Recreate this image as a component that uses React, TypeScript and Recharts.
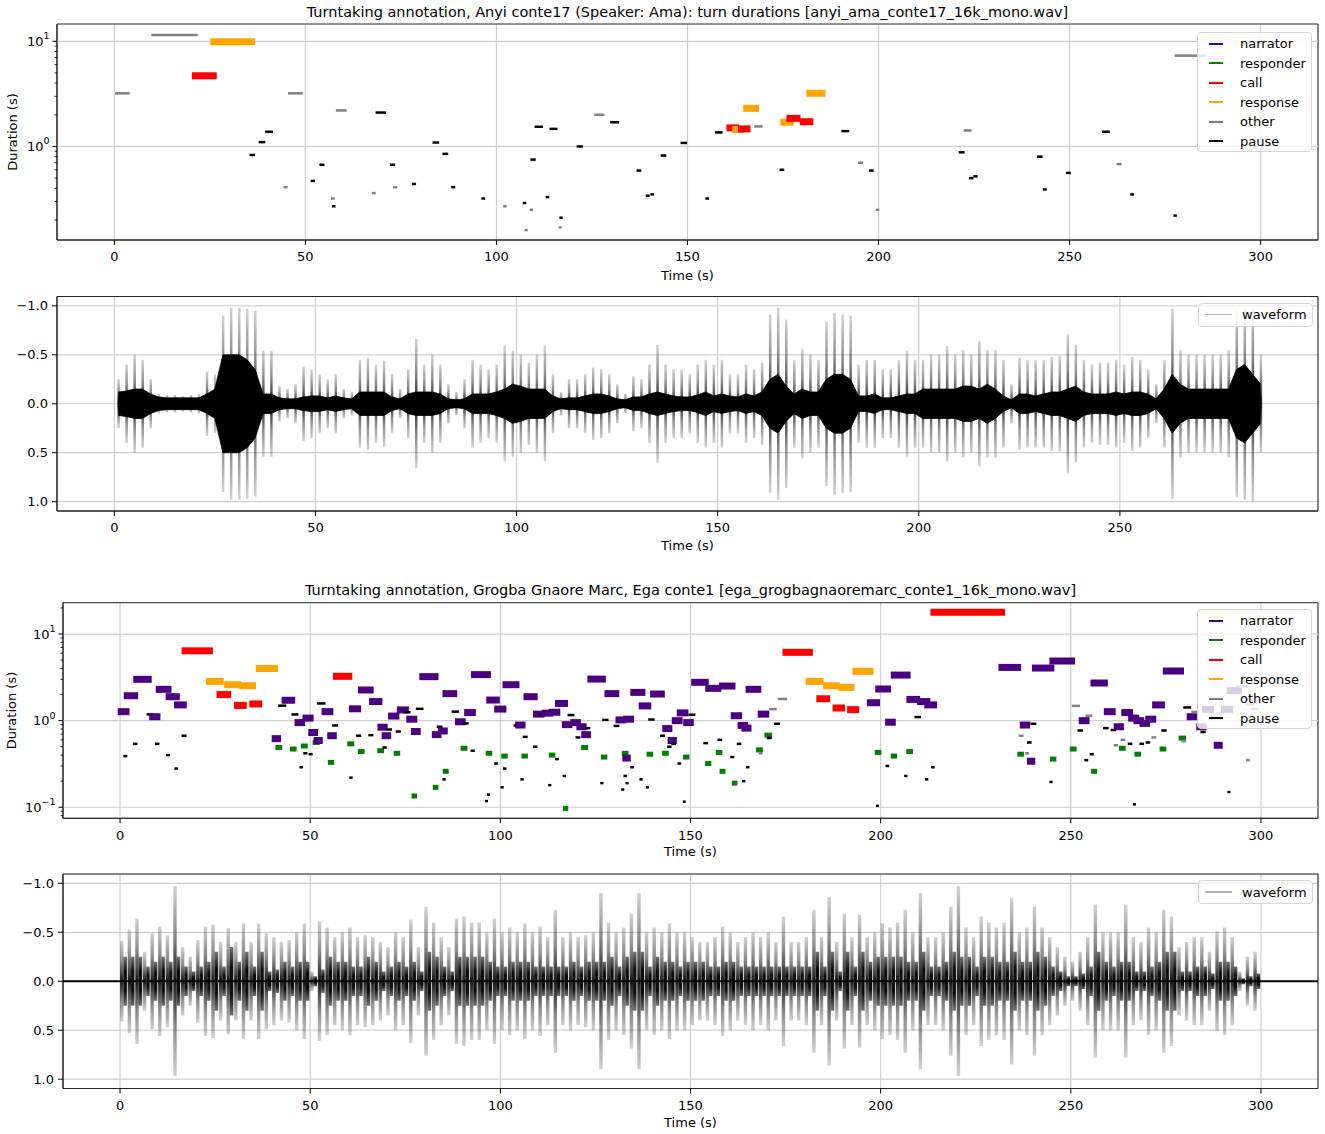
import React from 'react';
import { ComposedChart, XAxis, YAxis, CartesianGrid, ReferenceLine, ReferenceArea, Area, Bar, Legend, Label } from 'recharts';

const FONT = '"DejaVu Sans", "Liberation Sans", sans-serif';
const GRID = '#cfcfcf';
const SPINE = '#262626';

type Cat = 'narrator' | 'responder' | 'call' | 'response' | 'other' | 'pause';
const CATS: Cat[] = ['narrator', 'responder', 'call', 'response', 'other', 'pause'];
const COLORS: Record<Cat, string> = {
  narrator: '#4b0082', responder: '#008000', call: '#ff0000',
  response: '#ffa500', other: '#808080', pause: '#000000',
};
const WIDTHS: Record<Cat, number> = { narrator: 7, responder: 5, call: 7, response: 7, other: 2.5, pause: 2.5 };

const TIME_TICKS = [0, 50, 100, 150, 200, 250, 300];
const ANYI_WAVE_TICKS = [0, 50, 100, 150, 200, 250];
const AMP_TICKS = [-1, -0.5, 0, 0.5, 1];
const ANYI_LOG_TICKS = [0.2, 0.3, 0.4, 0.5, 0.6, 0.7, 0.8, 0.9, 1, 2, 3, 4, 5, 6, 7, 8, 9, 10];
const EGA_LOG_TICKS = [0.08, 0.09, 0.1, 0.2, 0.3, 0.4, 0.5, 0.6, 0.7, 0.8, 0.9, 1, 2, 3, 4, 5, 6, 7, 8, 9, 10, 20];

// turns: [start (s), duration (s)]
const ANYI_CALL = [[21.2, 4.7], [161.1, 1.5], [164.1, 1.47], [176.8, 1.85], [180.3, 1.72]];
const ANYI_RESPONSE = [[26.0, 9.9], [162.6, 1.45], [165.5, 2.3], [175.2, 1.7], [182.0, 3.2]];
const ANYI_OTHER = [
  [0.5, 3.2], [10.0, 11.5], [45.8, 3.2], [58.3, 2.2], [44.6, 0.41], [57.0, 0.32], [67.7, 0.36], [73.3, 0.41],
  [102.1, 0.27], [109.0, 0.25], [107.7, 0.16], [116.6, 0.17], [125.9, 2.0], [167.8, 1.55], [194.9, 0.7],
  [199.6, 0.25], [222.6, 1.42], [262.6, 0.68], [277.8, 7.3],
];
const ANYI_PAUSE = [
  [39.8, 1.38], [38.1, 1.1], [35.7, 0.83], [54.0, 0.67], [51.7, 0.47], [57.3, 0.27], [68.7, 2.1], [72.5, 0.67],
  [78.2, 0.44], [83.6, 1.09], [86.2, 0.85], [88.5, 0.41], [96.4, 0.32], [107.2, 0.29], [113.2, 0.33], [109.2, 0.75],
  [110.3, 1.54], [114.2, 1.47], [116.8, 0.21], [121.3, 1.0], [130.1, 1.7], [137.0, 0.59], [139.4, 0.34], [140.6, 0.35],
  [143.3, 0.82], [148.5, 1.08], [155.0, 0.32], [157.5, 1.36], [174.4, 0.6], [190.6, 1.4], [197.8, 0.59], [221.3, 0.88],
  [224.0, 0.5], [225.1, 0.52], [241.8, 0.8], [243.3, 0.39], [249.4, 0.56], [258.8, 1.38], [266.2, 0.35], [277.5, 0.22],
];

const EGA_NARRATOR = [
  [0.3, 1.27], [1.9, 1.94], [4.4, 3.0], [8.6, 1.11], [10.3, 2.3], [12.9, 1.89], [15.1, 1.52],
  [40.8, 0.62], [43.4, 1.72], [46.8, 0.95], [48.9, 1.07], [50.4, 0.73], [51.8, 0.59], [53.9, 1.27], [55.4, 0.67],
  [61.1, 1.37], [63.5, 2.26], [66.4, 1.66], [68.6, 0.84], [69.7, 0.67], [71.4, 1.13], [73.7, 1.33], [76.2, 1.04],
  [77.4, 0.75], [79.6, 3.22], [82.9, 0.69], [84.5, 0.76], [85.7, 2.05], [89.0, 0.97], [91.4, 1.24], [93.2, 3.4],
  [97.2, 1.73], [99.3, 1.36], [101.5, 2.6], [104.8, 0.89], [107.0, 1.89], [109.5, 1.19], [111.8, 1.22], [113.6, 1.25],
  [115.3, 1.58], [117.1, 0.9], [119.3, 0.95], [120.9, 0.85], [122.2, 0.69], [123.8, 3.02], [128.3, 2.05], [131.2, 1.02],
  [133.2, 1.04], [133.0, 0.37], [135.1, 2.12], [137.3, 1.48], [140.3, 2.03], [143.5, 0.81], [144.9, 0.59], [146.0, 1.0],
  [147.3, 1.23], [149.0, 0.95], [151.1, 2.77], [154.8, 2.36], [158.4, 2.51], [161.5, 1.14], [163.3, 0.88], [164.3, 0.82],
  [165.4, 2.3], [168.6, 1.19], [197.3, 1.61], [199.5, 2.32], [202.1, 0.96], [203.6, 3.36], [207.7, 1.76], [210.5, 1.66],
  [212.4, 1.52], [231.9, 4.12], [237.5, 0.89], [239.4, 0.34], [240.7, 4.05], [245.3, 4.88], [253.0, 1.0], [256.1, 2.72],
  [259.6, 1.27], [262.2, 0.85], [264.2, 1.24], [266.0, 1.07], [267.4, 1.0], [269.0, 0.93], [270.5, 1.04], [272.3, 1.52],
  [275.1, 3.74], [281.4, 1.11], [283.9, 0.85], [285.4, 1.35], [288.5, 0.52], [290.4, 1.35], [291.9, 2.22],
];
const EGA_RESPONDER = [
  [41.5, 0.49], [45.3, 0.47], [48.2, 0.51], [51.3, 0.56], [55.3, 0.33], [60.4, 0.54], [63.2, 0.44], [68.3, 0.45],
  [72.6, 0.42], [77.3, 0.135], [82.9, 0.17], [85.5, 0.26], [90.2, 0.48], [96.8, 0.42], [100.9, 0.39], [106.2, 0.39],
  [113.4, 0.4], [117.1, 0.097], [121.9, 0.49], [127.1, 0.38], [132.6, 0.42], [139.1, 0.41], [143.2, 0.42], [148.7, 0.38],
  [154.5, 0.32], [157.3, 0.43], [158.3, 0.26], [161.5, 0.19], [167.9, 0.46], [170.1, 0.68], [199.1, 0.43], [203.3, 0.39],
  [207.4, 0.44], [236.6, 0.41], [245.2, 0.36], [250.4, 0.47], [256.0, 0.26], [263.3, 0.48], [267.4, 0.41], [274.0, 0.47],
  [279.0, 0.63],
];
const EGA_CALL = [
  [17.1, 6.4], [26.3, 2.0], [30.9, 1.5], [34.9, 1.56], [56.9, 3.25], [175.1, 6.15], [184.0, 1.79], [188.3, 1.4],
  [192.1, 1.34], [214.0, 17.8],
];
const EGA_RESPONSE = [
  [23.5, 2.84], [28.3, 2.6], [32.3, 2.53], [36.6, 4.0], [181.2, 2.84], [185.8, 2.53], [189.8, 2.42], [193.5, 3.71],
];
const EGA_OTHER = [
  [168.2, 0.42], [171.0, 1.36], [173.3, 1.78], [236.6, 0.67], [238.3, 0.42], [250.6, 1.48], [254.2, 1.14], [261.6, 0.52],
  [263.4, 0.6], [271.5, 0.64], [279.4, 0.58], [282.0, 1.26], [288.6, 1.22], [293.8, 2.5], [296.3, 1.54], [297.8, 1.37],
  [296.4, 0.35],
];
const EGA_PAUSE = [
  [1.2, 0.39], [3.7, 0.54], [7.3, 1.18], [9.5, 0.54], [12.4, 0.4], [14.6, 0.28], [16.5, 0.67],
  [41.9, 1.49], [45.4, 1.18], [48.5, 0.42], [49.9, 0.41], [47.5, 0.29], [52.1, 1.58], [56.1, 0.88], [60.6, 0.22],
  [62.4, 0.67], [65.6, 0.68], [69.3, 0.49], [70.4, 0.79], [72.8, 0.75], [74.8, 1.25], [78.1, 1.37], [83.6, 0.85],
  [85.1, 0.21], [87.5, 1.27], [90.4, 0.93], [92.5, 0.45], [96.3, 0.118], [96.8, 0.14], [98.7, 0.32], [100.4, 0.17],
  [101.0, 0.28], [103.8, 0.88], [105.6, 0.21], [106.2, 0.65], [108.9, 0.5], [110.3, 1.18], [112.9, 0.18], [114.7, 0.36],
  [116.7, 0.23], [118.0, 1.16], [120.1, 0.64], [122.5, 0.82], [126.6, 0.19], [127.1, 1.02], [130.1, 0.87], [132.1, 0.16],
  [132.7, 0.23], [133.2, 0.19], [134.5, 0.29], [136.9, 0.21], [138.6, 0.17], [139.2, 1.03], [142.3, 0.67], [144.2, 0.5],
  [145.3, 0.54], [146.9, 0.32], [148.3, 0.116], [149.8, 1.17], [153.7, 0.55], [157.4, 0.6], [160.8, 0.38], [162.5, 0.54],
  [163.9, 0.2], [164.9, 0.29], [170.4, 0.63], [172.3, 0.92], [199.1, 0.104], [201.6, 0.3], [206.5, 0.23], [209.2, 1.1],
  [212.0, 0.21], [213.6, 0.29], [238.8, 0.56], [239.7, 0.92], [244.7, 0.196], [252.1, 0.77], [253.9, 0.35], [255.3, 0.41],
  [258.8, 0.82], [260.8, 0.78], [265.3, 0.54], [266.7, 0.108], [268.4, 0.54], [270.0, 0.56], [274.1, 0.77], [279.9, 1.42],
  [284.4, 0.74], [291.5, 0.15],
];

// waveform envelopes, 2 s bins: dense core amplitude and peak amplitude
const ANYI_WAVE_CORE = [
  0.12, 0.13, 0.15, 0.15, 0.1, 0.07, 0.06, 0.06, 0.06, 0.06,
  0.06, 0.1, 0.15, 0.5, 0.5, 0.5, 0.45, 0.35, 0.1, 0.1,
  0.06, 0.05, 0.05, 0.07, 0.08, 0.08, 0.06, 0.08, 0.06, 0.05,
  0.12, 0.12, 0.12, 0.12, 0.07, 0.05, 0.1, 0.12, 0.12, 0.12,
  0.1, 0.05, 0.04, 0.05, 0.1, 0.1, 0.1, 0.12, 0.15, 0.2,
  0.18, 0.15, 0.15, 0.15, 0.08, 0.05, 0.06, 0.06, 0.08, 0.1,
  0.1, 0.08, 0.05, 0.04, 0.07, 0.07, 0.1, 0.12, 0.1, 0.08,
  0.07, 0.07, 0.09, 0.12, 0.08, 0.1, 0.08, 0.07, 0.1, 0.08,
  0.12, 0.25, 0.3, 0.18, 0.1, 0.15, 0.12, 0.12, 0.25, 0.3,
  0.3, 0.25, 0.08, 0.08, 0.1, 0.06, 0.06, 0.08, 0.1, 0.1,
  0.15, 0.15, 0.15, 0.15, 0.15, 0.18, 0.18, 0.15, 0.2, 0.15,
  0.08, 0.04, 0.1, 0.1, 0.08, 0.1, 0.12, 0.12, 0.15, 0.18,
  0.12, 0.1, 0.1, 0.1, 0.12, 0.1, 0.12, 0.12, 0.1, 0.05,
  0.15, 0.3, 0.2, 0.15, 0.15, 0.15, 0.15, 0.15, 0.15, 0.35,
  0.4, 0.3, 0.2,
];
const ANYI_WAVE_PEAK = [
  0.25, 0.4, 0.5, 0.45, 0.25, 0.1, 0.09, 0.09, 0.08, 0.09,
  0.1, 0.33, 0.3, 0.9, 0.98, 0.98, 0.97, 0.95, 0.54, 0.54,
  0.18, 0.15, 0.2, 0.38, 0.35, 0.3, 0.25, 0.3, 0.15, 0.12,
  0.45, 0.47, 0.4, 0.44, 0.3, 0.15, 0.35, 0.66, 0.4, 0.5,
  0.4, 0.2, 0.12, 0.25, 0.45, 0.4, 0.35, 0.4, 0.59, 0.54,
  0.5, 0.42, 0.5, 0.59, 0.3, 0.12, 0.25, 0.25, 0.3, 0.37,
  0.35, 0.3, 0.2, 0.1, 0.28, 0.25, 0.4, 0.6, 0.4, 0.35,
  0.35, 0.3, 0.4, 0.45, 0.4, 0.45, 0.3, 0.3, 0.4, 0.35,
  0.42, 0.91, 0.98, 0.86, 0.45, 0.56, 0.5, 0.45, 0.84, 0.93,
  0.91, 0.9, 0.4, 0.45, 0.45, 0.35, 0.35, 0.45, 0.54, 0.45,
  0.45, 0.5, 0.5, 0.59, 0.5, 0.55, 0.5, 0.64, 0.55, 0.55,
  0.45, 0.2, 0.47, 0.45, 0.45, 0.45, 0.48, 0.49, 0.71, 0.6,
  0.45, 0.4, 0.42, 0.42, 0.45, 0.4, 0.48, 0.45, 0.35, 0.2,
  0.45, 0.97, 0.55, 0.5, 0.5, 0.5, 0.5, 0.5, 0.55, 0.95,
  0.98, 1.0, 0.5,
];
const EGA_WAVE_CORE = [
  0.25, 0.25, 0.25, 0.15, 0.2, 0.25, 0.2, 0.25, 0.15, 0.1,
  0.15, 0.2, 0.3, 0.15, 0.35, 0.2, 0.3, 0.15, 0.3, 0.1,
  0.12, 0.2, 0.15, 0.2, 0.2, 0.05, 0.12, 0.25, 0.2, 0.2,
  0.15, 0.15, 0.25, 0.2, 0.1, 0.15, 0.2, 0.15, 0.2, 0.1,
  0.3, 0.25, 0.15, 0.1, 0.25, 0.25, 0.25, 0.25, 0.2, 0.15,
  0.15, 0.2, 0.2, 0.2, 0.15, 0.15, 0.15, 0.15, 0.15, 0.2,
  0.15, 0.2, 0.2, 0.2, 0.25, 0.15, 0.25, 0.3, 0.3, 0.15,
  0.25, 0.2, 0.2, 0.15, 0.2, 0.2, 0.2, 0.15, 0.15, 0.2,
  0.2, 0.15, 0.15, 0.15, 0.15, 0.15, 0.15, 0.15, 0.15, 0.15,
  0.15, 0.3, 0.15, 0.3, 0.1, 0.3, 0.15, 0.3, 0.2, 0.25,
  0.25, 0.25, 0.25, 0.2, 0.2, 0.3, 0.15, 0.15, 0.2, 0.3,
  0.25, 0.25, 0.15, 0.25, 0.25, 0.2, 0.2, 0.3, 0.2, 0.2,
  0.3, 0.25, 0.15, 0.1, 0.05, 0.05, 0.08, 0.15, 0.3, 0.2,
  0.15, 0.2, 0.2, 0.1, 0.1, 0.15, 0.2, 0.3, 0.3, 0.1,
  0.1, 0.15, 0.15, 0.08, 0.2, 0.2, 0.15, 0.03, 0.05, 0.08,
];
const EGA_WAVE_PEAK = [
  0.41, 0.53, 0.64, 0.3, 0.49, 0.56, 0.47, 0.97, 0.35, 0.25,
  0.42, 0.56, 0.58, 0.4, 0.54, 0.4, 0.59, 0.4, 0.59, 0.49,
  0.45, 0.4, 0.42, 0.5, 0.59, 0.1, 0.61, 0.55, 0.45, 0.5,
  0.55, 0.45, 0.47, 0.45, 0.4, 0.35, 0.5, 0.45, 0.63, 0.35,
  0.76, 0.6, 0.45, 0.35, 0.64, 0.66, 0.6, 0.6, 0.5, 0.64,
  0.5, 0.55, 0.5, 0.59, 0.5, 0.56, 0.45, 0.73, 0.45, 0.5,
  0.45, 0.47, 0.5, 0.9, 0.6, 0.5, 0.55, 0.69, 0.9, 0.5,
  0.55, 0.5, 0.59, 0.5, 0.5, 0.45, 0.4, 0.4, 0.45, 0.56,
  0.5, 0.4, 0.45, 0.5, 0.45, 0.5, 0.4, 0.66, 0.4, 0.4,
  0.45, 0.73, 0.45, 0.86, 0.4, 0.69, 0.45, 0.68, 0.45, 0.5,
  0.59, 0.55, 0.6, 0.73, 0.5, 0.9, 0.45, 0.45, 0.5, 0.76,
  0.97, 0.55, 0.45, 0.66, 0.6, 0.55, 0.6, 0.85, 0.5, 0.55,
  0.76, 0.55, 0.45, 0.35, 0.25, 0.2, 0.3, 0.45, 0.78, 0.5,
  0.5, 0.5, 0.78, 0.45, 0.4, 0.55, 0.5, 0.73, 0.66, 0.35,
  0.4, 0.45, 0.45, 0.3, 0.51, 0.55, 0.45, 0.1, 0.25, 0.3,
];
const WAVE_BIN = 2;

type Seg = { cat: Cat; start: number; dur: number };
const buildSegs = (groups: [Cat, number[][]][]): Seg[] =>
  groups
    .flatMap(([cat, rows]) => rows.map(([start, dur]) => ({ cat, start, dur })))
    .sort((a, b) => a.start - b.start);

const ANYI_SEGS = buildSegs([['call', ANYI_CALL], ['response', ANYI_RESPONSE], ['other', ANYI_OTHER], ['pause', ANYI_PAUSE]]);
const EGA_SEGS = buildSegs([
  ['narrator', EGA_NARRATOR], ['responder', EGA_RESPONDER], ['call', EGA_CALL],
  ['response', EGA_RESPONSE], ['other', EGA_OTHER], ['pause', EGA_PAUSE],
]);

const waveRows = (core: number[], peak: number[]) =>
  core.map((c, i) => ({ t: i * WAVE_BIN + WAVE_BIN / 2, core: [-c, c], peak: [-peak[i], peak[i]] }));

const TICK_STYLE = { fill: '#000', fontSize: 13, fontFamily: FONT };
const fmtAmp = (v: number) => (v < 0 ? '\u2212' : '') + Math.abs(v).toFixed(1);

const LogTick = (props: any) => {
  const { x, y, payload } = props;
  const lg = Math.log10(payload.value);
  const exp = Math.round(lg);
  const major = Math.abs(lg - exp) < 1e-6;
  return (
    <g>
      <line x1={x} x2={x - (major ? 4.5 : 2.6)} y1={y} y2={y} stroke="#000" strokeWidth={major ? 1 : 0.8} />
      {major && (
        <text x={x - 7.5} y={y + 4.5} textAnchor="end" fontSize={13} fontFamily={FONT} fill="#000">
          10<tspan fontSize={9.5} dy={-6.5}>{exp < 0 ? '\u2212' + -exp : String(exp)}</tspan>
        </text>
      )}
    </g>
  );
};

const timeLabel = (dy: number) => (p: any) => {
  const vb = p.viewBox && p.viewBox.width ? p.viewBox : { x: 60, y: 0, width: 1258 };
  return (
    <text x={vb.x + vb.width / 2} y={vb.y + dy} textAnchor="middle" dominantBaseline="central"
      fontSize={13} fontFamily={FONT} fill="#000">Time (s)</text>
  );
};

const durationLabel = (p: any) => {
  const vb = p.viewBox && p.viewBox.height ? p.viewBox : { x: 0, y: 24, height: 216 };
  const cx = vb.x + 12;
  const cy = vb.y + vb.height / 2;
  return (
    <text x={cx} y={cy} transform={`rotate(-90, ${cx}, ${cy})`} textAnchor="middle" dominantBaseline="central"
      fontSize={13} fontFamily={FONT} fill="#000">Duration (s)</text>
  );
};

const TurnLegend = () => (
  <div style={{
    background: 'rgba(255,255,255,0.8)', border: '1px solid #d6d6d6', borderRadius: 4, width: 115, height: 120,
    boxSizing: 'border-box', paddingTop: 1, fontFamily: FONT, fontSize: 13, color: '#000',
  }}>
    {CATS.map((c) => (
      <div key={c} style={{ display: 'flex', alignItems: 'center', height: 19.5 }}>
        <span style={{ display: 'inline-block', width: 14, height: 2, background: COLORS[c], marginLeft: 11, marginRight: 17 }} />
        <span style={{ lineHeight: '15px' }}>{c}</span>
      </div>
    ))}
  </div>
);

const WaveLegend = () => (
  <div style={{
    background: 'rgba(255,255,255,0.8)', border: '1px solid #d6d6d6', borderRadius: 4, width: 115, height: 24,
    boxSizing: 'border-box', display: 'flex', alignItems: 'center', fontFamily: FONT, fontSize: 13, color: '#000',
  }}>
    <span style={{ display: 'inline-block', width: 27, height: 1.3, background: '#b3b3b3', marginLeft: 6, marginRight: 10 }} />
    <span>waveform</span>
  </div>
);

const X_DOMAIN: [number, number] = [-15, 315];

type TurnProps = {
  top: number; height: number; marginTop: number; yWidth: number; xHeight: number; labelDy: number;
  yDomain: [number, number]; yTicks: number[]; majors: number[]; segs: Seg[]; legendTop: number;
};

const TurnPanel = ({ top, height, marginTop, yWidth, xHeight, labelDy, yDomain, yTicks, majors, segs, legendTop }: TurnProps) => (
  <div style={{ position: 'absolute', left: 0, top }}>
    <ComposedChart width={1325} height={height} margin={{ top: marginTop, right: 7, bottom: 0, left: 0 }}>
      <CartesianGrid horizontal={false} stroke={GRID} strokeWidth={1.2} />
      <XAxis type="number" dataKey="t" domain={X_DOMAIN} allowDataOverflow ticks={TIME_TICKS} interval={0}
        height={xHeight} tickSize={5} tickMargin={7} tick={TICK_STYLE} tickLine={{ stroke: '#000' }}
        axisLine={{ stroke: SPINE }} label={<Label content={timeLabel(labelDy)} />} />
      <YAxis type="number" scale="log" domain={yDomain} allowDataOverflow ticks={yTicks} interval={0} width={yWidth}
        tickSize={0} tickMargin={0} tickLine={false} axisLine={{ stroke: SPINE }}
        tick={(p: any) => <LogTick {...p} />} label={<Label content={durationLabel} />} />
      {majors.map((v) => (
        <ReferenceLine key={'g' + v} y={v} stroke={GRID} strokeWidth={1.2} />
      ))}
      {segs.map((s, i) => (
        <ReferenceLine key={i} segment={[{ x: s.start, y: s.dur }, { x: s.start + s.dur, y: s.dur }]}
          stroke={COLORS[s.cat]} strokeWidth={WIDTHS[s.cat]} strokeLinecap="square" ifOverflow="visible" />
      ))}
      <ReferenceArea x1={X_DOMAIN[0]} x2={X_DOMAIN[1]} y1={yDomain[0]} y2={yDomain[1]} fill="none"
        fillOpacity={0} stroke={SPINE} strokeWidth={1} ifOverflow="visible" />
      <Legend content={() => <TurnLegend />} layout="vertical" align="center" verticalAlign="middle"
        wrapperStyle={{ top: legendTop, left: 1197, width: 'auto' }} />
    </ComposedChart>
  </div>
);

type WaveProps = {
  id: string; top: number; marginTop: number; yWidth: number; xDomain: [number, number]; xTicks: number[];
  core: number[]; peak: number[]; legendTop: number; coreBars: boolean;
};

const AMP_DOMAIN: [number, number] = [-1.095, 1.095];

const WavePanel = ({ id, top, marginTop, yWidth, xDomain, xTicks, core, peak, legendTop, coreBars }: WaveProps) => (
  <div style={{ position: 'absolute', left: 0, top }}>
    <ComposedChart width={1325} height={marginTop + 214.5 + 44} data={waveRows(core, peak)}
      margin={{ top: marginTop, right: 7, bottom: 0, left: 0 }}>
      <defs>
        <linearGradient id={id + '-spike'} x1="0" y1="0" x2="0" y2="1">
          <stop offset="0%" stopColor="#000" stopOpacity={0.18} />
          <stop offset="25%" stopColor="#000" stopOpacity={0.45} />
          <stop offset="50%" stopColor="#000" stopOpacity={0.9} />
          <stop offset="75%" stopColor="#000" stopOpacity={0.45} />
          <stop offset="100%" stopColor="#000" stopOpacity={0.18} />
        </linearGradient>
        <linearGradient id={id + '-core'} x1="0" y1="0" x2="0" y2="1">
          <stop offset="0%" stopColor="#000" stopOpacity={0.55} />
          <stop offset="30%" stopColor="#000" stopOpacity={0.95} />
          <stop offset="70%" stopColor="#000" stopOpacity={0.95} />
          <stop offset="100%" stopColor="#000" stopOpacity={0.55} />
        </linearGradient>
      </defs>
      <CartesianGrid stroke={GRID} strokeWidth={1.2} />
      <XAxis type="number" dataKey="t" domain={xDomain} allowDataOverflow ticks={xTicks} interval={0}
        height={44} tickSize={5} tickMargin={7} tick={TICK_STYLE} tickLine={{ stroke: '#000' }}
        axisLine={{ stroke: SPINE }} label={<Label content={timeLabel(34)} />} />
      <YAxis type="number" domain={AMP_DOMAIN} allowDataOverflow reversed ticks={AMP_TICKS} interval={0}
        width={yWidth} tickSize={5} tickMargin={4} tick={TICK_STYLE} tickLine={{ stroke: '#000' }}
        tickFormatter={fmtAmp} axisLine={{ stroke: SPINE }} />
      <Bar dataKey="peak" fill={`url(#${id}-spike)`} barSize={2.5} isAnimationActive={false} />
      {coreBars ? (
        <Bar dataKey="core" fill={`url(#${id}-core)`} barSize={5.5} isAnimationActive={false} />
      ) : (
        <Area dataKey="core" type="linear" stroke="#000" strokeWidth={0.8} fill="#000" fillOpacity={1}
          isAnimationActive={false} />
      )}
      {coreBars && <ReferenceLine y={0} stroke="#000" strokeWidth={2} segment={[{ x: 0, y: 0 }, { x: 300, y: 0 }]} />}
      <ReferenceArea x1={xDomain[0]} x2={xDomain[1]} y1={AMP_DOMAIN[0]} y2={AMP_DOMAIN[1]} fill="none"
        fillOpacity={0} stroke={SPINE} strokeWidth={1} ifOverflow="visible" />
      <Legend content={() => <WaveLegend />} layout="vertical" align="center" verticalAlign="middle"
        wrapperStyle={{ top: legendTop, left: 1198, width: 'auto' }} />
    </ComposedChart>
  </div>
);

const titleStyle = (top: number, left: number, width: number): React.CSSProperties => ({
  position: 'absolute', top, left, width, textAlign: 'center', fontFamily: FONT, fontSize: 14.5,
  lineHeight: '16px', color: '#000', whiteSpace: 'nowrap',
});

export default function App() {
  return (
    <div style={{ position: 'absolute', left: 0, top: 0, width: 1325, height: 1134, background: '#fff', overflow: 'hidden' }}>
      <div style={titleStyle(4, 57, 1261)}>
        Turntaking annotation, Anyi conte17 (Speaker: Ama): turn durations [anyi_ama_conte17_16k_mono.wav]
      </div>
      <TurnPanel top={0} height={285} marginTop={24} yWidth={57} xHeight={45} labelDy={35}
        yDomain={[0.129, 14.6]} yTicks={ANYI_LOG_TICKS} majors={[1, 10]} segs={ANYI_SEGS} legendTop={32} />
      <WavePanel id="anyi" top={285} marginTop={11.5} yWidth={57} xDomain={[-14.25, 299.25]} xTicks={ANYI_WAVE_TICKS}
        core={ANYI_WAVE_CORE} peak={ANYI_WAVE_PEAK} legendTop={17.7} coreBars={false} />
      <div style={titleStyle(582, 63, 1255)}>
        Turntaking annotation, Grogba Gnaore Marc, Ega conte1 [ega_grogbagnaoremarc_conte1_16k_mono.wav]
      </div>
      <TurnPanel top={560} height={302.3} marginTop={42.7} yWidth={63} xHeight={44} labelDy={33}
        yDomain={[0.0746, 23]} yTicks={EGA_LOG_TICKS} majors={[0.1, 1, 10]} segs={EGA_SEGS} legendTop={49} />
      <WavePanel id="ega" top={862} marginTop={12} yWidth={63} xDomain={X_DOMAIN} xTicks={TIME_TICKS}
        core={EGA_WAVE_CORE} peak={EGA_WAVE_PEAK} legendTop={18} coreBars />
    </div>
  );
}
